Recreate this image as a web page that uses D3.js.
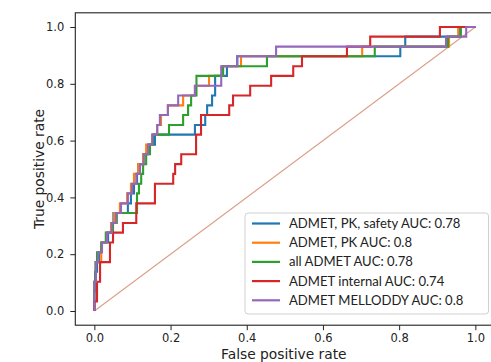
<!DOCTYPE html>
<html>
<head>
<meta charset="utf-8">
<script src="https://cdn.jsdelivr.net/npm/d3@7"></script>
<style>
  html, body { margin: 0; padding: 0; background: #fff; }
  svg { display: block; }
</style>
</head>
<body>
<svg id="chart" width="491" height="362"></svg>
<script>
// ROC curves: step points (false positive rate, true positive rate)
const seriesNames = [
  "ADMET, PK, safety AUC: 0.78",
  "ADMET, PK AUC: 0.8",
  "all ADMET AUC: 0.78",
  "ADMET internal AUC: 0.74",
  "ADMET MELLODDY AUC: 0.8"
];

const pkSafetyFpr = [0, 0, 0.002, 0.007, 0.012, 0.020, 0.036, 0.044, 0.050, 0.088, 0.096, 0.104, 0.112, 0.115, 0.128, 0.141, 0.159, 0.264, 0.291, 0.296, 0.309, 0.317, 0.348, 0.375, 0.803, 0.816, 0.960, 1.0];
const pkSafetyTpr = [0, 0.069, 0.138, 0.172, 0.207, 0.241, 0.276, 0.310, 0.345, 0.379, 0.414, 0.448, 0.483, 0.517, 0.552, 0.586, 0.621, 0.655, 0.690, 0.724, 0.759, 0.828, 0.862, 0.897, 0.931, 0.966, 1.0, 1.0];

const pkFpr = [0, 0, 0.004, 0.018, 0.033, 0.044, 0.052, 0.067, 0.086, 0.096, 0.104, 0.115, 0.128, 0.136, 0.152, 0.165, 0.175, 0.193, 0.233, 0.264, 0.301, 0.335, 0.385, 0.703, 0.931, 0.955, 1.0];
const pkTpr = [0, 0.103, 0.172, 0.241, 0.276, 0.310, 0.345, 0.379, 0.414, 0.448, 0.483, 0.517, 0.552, 0.586, 0.621, 0.655, 0.690, 0.724, 0.759, 0.793, 0.828, 0.862, 0.897, 0.931, 0.966, 1.0, 1.0];

const allAdmetFpr = [0, 0, 0.003, 0.007, 0.018, 0.030, 0.049, 0.059, 0.112, 0.117, 0.123, 0.128, 0.136, 0.146, 0.154, 0.196, 0.233, 0.246, 0.254, 0.268, 0.338, 0.453, 0.736, 0.928, 0.962, 1.0];
const allAdmetTpr = [0, 0.103, 0.172, 0.207, 0.241, 0.276, 0.310, 0.345, 0.414, 0.448, 0.483, 0.517, 0.552, 0.586, 0.621, 0.655, 0.690, 0.724, 0.759, 0.828, 0.862, 0.897, 0.931, 0.966, 1.0, 1.0];

const internalFpr = [0, 0, 0.007, 0.015, 0.041, 0.049, 0.075, 0.110, 0.159, 0.207, 0.212, 0.228, 0.267, 0.280, 0.354, 0.364, 0.409, 0.464, 0.522, 0.545, 0.663, 0.724, 0.907, 1.0];
const internalTpr = [0, 0.034, 0.103, 0.172, 0.241, 0.276, 0.310, 0.379, 0.448, 0.483, 0.517, 0.552, 0.621, 0.690, 0.724, 0.759, 0.793, 0.828, 0.862, 0.897, 0.931, 0.966, 1.0, 1.0];

const melloddyFpr = [0, 0, 0.004, 0.010, 0.020, 0.033, 0.046, 0.057, 0.070, 0.088, 0.099, 0.110, 0.120, 0.130, 0.141, 0.152, 0.165, 0.172, 0.193, 0.220, 0.264, 0.333, 0.375, 0.477, 0.923, 0.976, 1.0];
const melloddyTpr = [0, 0.103, 0.172, 0.207, 0.241, 0.276, 0.310, 0.345, 0.379, 0.414, 0.448, 0.483, 0.517, 0.552, 0.586, 0.621, 0.655, 0.690, 0.724, 0.759, 0.793, 0.862, 0.897, 0.931, 0.966, 1.0, 1.0];

const chanceFpr = [0, 1];
const chanceTpr = [0, 1];

const xTicks = [0.0, 0.2, 0.4, 0.6, 0.8, 1.0];
const yTicks = [0.0, 0.2, 0.4, 0.6, 0.8, 1.0];

const colors = ["#1f77b4", "#ff7f0e", "#2ca02c", "#d62728", "#9467bd"];

const series = [
  { name: seriesNames[0], fpr: pkSafetyFpr, tpr: pkSafetyTpr },
  { name: seriesNames[1], fpr: pkFpr, tpr: pkTpr },
  { name: seriesNames[2], fpr: allAdmetFpr, tpr: allAdmetTpr },
  { name: seriesNames[3], fpr: internalFpr, tpr: internalTpr },
  { name: seriesNames[4], fpr: melloddyFpr, tpr: melloddyTpr }
];

const svg = d3.select("#chart");
const plot = { left: 75.3, right: 494.4, top: 12.8, bottom: 325.2 };

const x = d3.scaleLinear().domain([-0.05, 1.05]).range([plot.left, plot.right]);
const y = d3.scaleLinear().domain([-0.05, 1.05]).range([plot.bottom, plot.top]);

const tickFont = "DejaVu Sans, sans-serif";

// chance diagonal
svg.append("line")
  .attr("x1", x(chanceFpr[0])).attr("y1", y(chanceTpr[0]))
  .attr("x2", x(chanceFpr[1])).attr("y2", y(chanceTpr[1]))
  .attr("stroke", "#dc9f88")
  .attr("stroke-width", 1.1);

// step curves
const stepLine = d3.line()
  .x(d => x(d[0]))
  .y(d => y(d[1]))
  .curve(d3.curveStepAfter);

series.forEach((s, i) => {
  const pts = s.fpr.map((f, j) => [f, s.tpr[j]]);
  svg.append("path")
    .attr("d", stepLine(pts))
    .attr("fill", "none")
    .attr("stroke", colors[i])
    .attr("stroke-width", 2.1)
    .attr("stroke-linejoin", "miter");
});

// axes
const xAxis = d3.axisBottom(x).tickValues(xTicks).tickFormat(d3.format(".1f")).tickSize(5).tickPadding(4);
const yAxis = d3.axisLeft(y).tickValues(yTicks).tickFormat(d3.format(".1f")).tickSize(5).tickPadding(6);

const gx = svg.append("g").attr("transform", `translate(0,${plot.bottom})`).call(xAxis);
const gy = svg.append("g").attr("transform", `translate(${plot.left},0)`).call(yAxis);
[gx, gy].forEach(g => {
  g.select(".domain").remove();
  g.selectAll(".tick line").attr("stroke", "#222").attr("stroke-width", 1);
  g.selectAll(".tick text").attr("fill", "#222").style("font-family", tickFont).style("font-size", "11.5px");
});

// frame
svg.append("rect")
  .attr("x", plot.left).attr("y", plot.top)
  .attr("width", plot.right - plot.left).attr("height", plot.bottom - plot.top)
  .attr("fill", "none").attr("stroke", "#222").attr("stroke-width", 1.1);

// axis titles
svg.append("text")
  .attr("x", (plot.left + plot.right) / 2 - 1).attr("y", 359)
  .attr("text-anchor", "middle")
  .style("font-family", tickFont).style("font-size", "13.8px").attr("fill", "#222")
  .text("False positive rate");

svg.append("text")
  .attr("transform", `translate(44,${(plot.top + plot.bottom) / 2}) rotate(-90)`)
  .attr("text-anchor", "middle")
  .style("font-family", tickFont).style("font-size", "13.8px").attr("fill", "#222")
  .text("True positive rate");

// legend
const legend = svg.append("g").attr("transform", "translate(245,213)");
legend.append("rect")
  .attr("width", 243.5).attr("height", 101)
  .attr("rx", 3)
  .attr("fill", "#fff").attr("fill-opacity", 0.9)
  .attr("stroke", "#d0d0d0").attr("stroke-width", 1);

series.forEach((s, i) => {
  const ly = 10.5 + i * 19.2;
  legend.append("line")
    .attr("x1", 7).attr("x2", 35).attr("y1", ly).attr("y2", ly)
    .attr("stroke", colors[i]).attr("stroke-width", 2.2);
  legend.append("text")
    .attr("x", 44).attr("y", ly)
    .attr("dy", "0.35em")
    .style("font-family", "Lato, sans-serif").style("font-size", "13.1px").attr("fill", "#222")
    .text(s.name);
});
</script>
</body>
</html>
